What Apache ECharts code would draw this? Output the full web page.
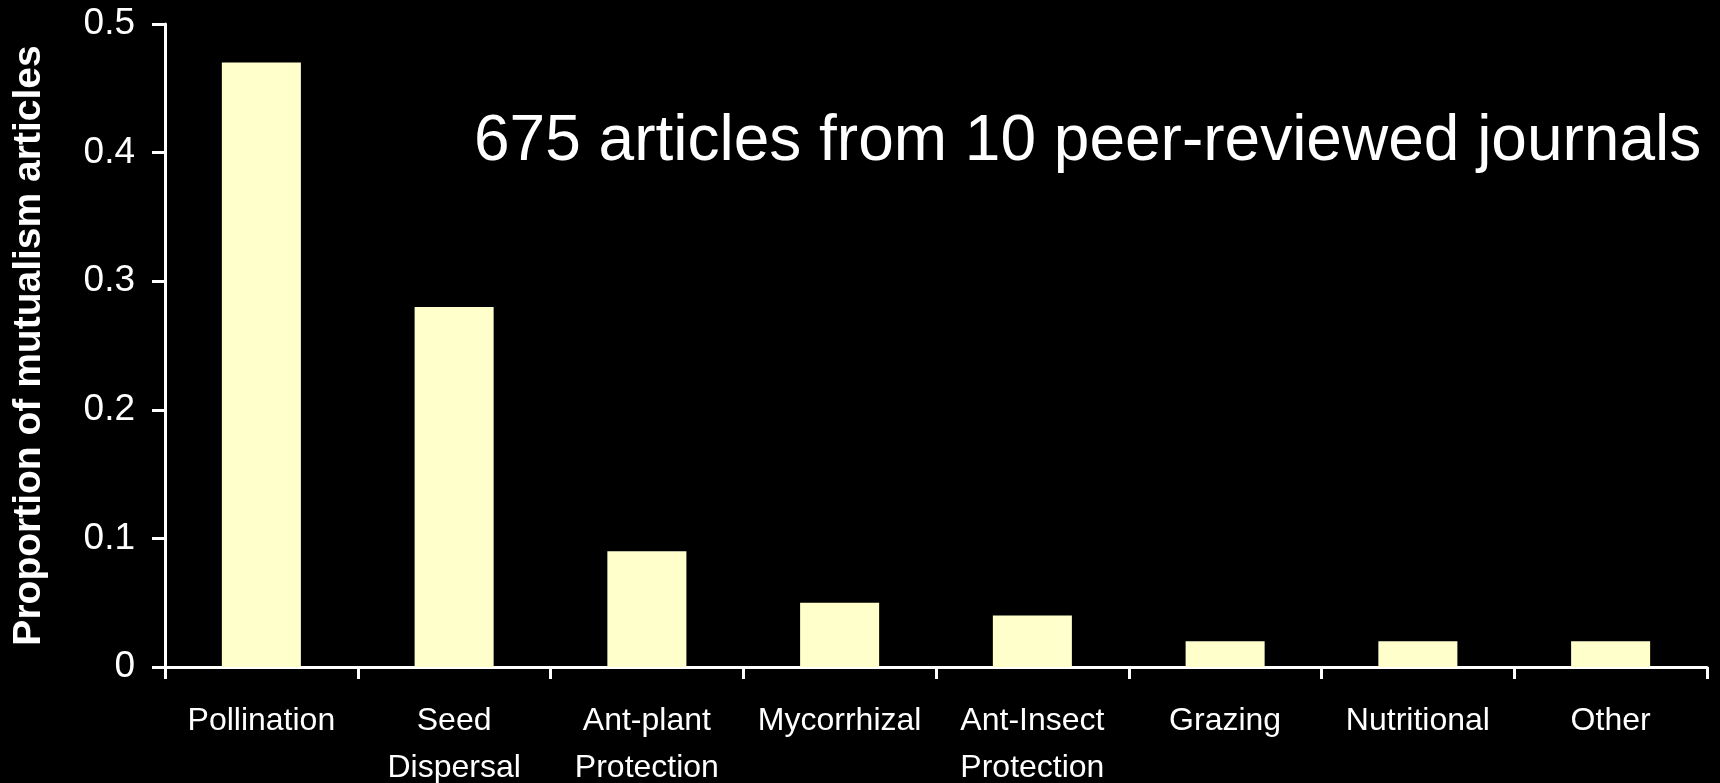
<!DOCTYPE html>
<html>
<head>
<meta charset="utf-8">
<script src="https://cdn.jsdelivr.net/npm/echarts@6/dist/echarts.min.js"></script>
<style>
  html, body { margin: 0; padding: 0; background: #000000; }
  #chart { width: 1720px; height: 783px; }
</style>
</head>
<body>
<div id="chart"></div>
<script>
// categories and values
var categories = ["Pollination", "Seed\nDispersal", "Ant-plant\nProtection", "Mycorrhizal",
                  "Ant-Insect\nProtection", "Grazing", "Nutritional", "Other"];
var proportions = [0.47, 0.28, 0.09, 0.05, 0.04, 0.02, 0.02, 0.02];
var yTicks = [0, 0.1, 0.2, 0.3, 0.4, 0.5];
var note = "675 articles from 10 peer-reviewed journals";

var fontFam = "'Liberation Sans', Arial, sans-serif";
var chart = echarts.init(document.getElementById('chart'));

var option = {
  backgroundColor: "#000000",
  animation: false,
  // keep the plot box fixed, labels may sit near the edge
  grid: { left: 165, right: 13, top: 24, bottom: 116, containLabel: false, outerBoundsMode: 'none' },
  xAxis: {
    type: 'category',
    data: categories,
    axisLine: { lineStyle: { color: '#ffffff', width: 3 } },
    axisTick: { show: true, length: 12, lineStyle: { color: '#ffffff', width: 3 } },
    axisLabel: {
      interval: 0,
      color: '#ffffff',
      fontFamily: fontFam,
      fontSize: 32,
      lineHeight: 47,
      margin: 31
    }
  },
  yAxis: {
    type: 'value',
    min: yTicks[0],
    max: yTicks[yTicks.length - 1],
    interval: 0.1,
    name: 'Proportion of mutualism articles',
    nameLocation: 'middle',
    nameRotate: 90,
    nameGap: 116,
    nameTextStyle: { color: '#ffffff', fontFamily: fontFam, fontSize: 39, fontWeight: 'bold' },
    splitLine: { show: false },
    axisLine: { show: true, lineStyle: { color: '#ffffff', width: 3 } },
    axisTick: { show: true, length: 13, lineStyle: { color: '#ffffff', width: 3 } },
    axisLabel: {
      color: '#ffffff',
      fontFamily: fontFam,
      fontSize: 37,
      margin: 30,
      formatter: function (v) { return String(Math.round(v * 10) / 10); }
    }
  },
  graphic: [{
    type: 'text',
    left: 474,
    top: 110,
    style: { text: note, fill: '#ffffff', font: '64px ' + fontFam }
  }],
  series: [{
    type: 'bar',
    data: proportions,
    barWidth: '41%',
    itemStyle: { color: '#FFFFCC' }
  }]
};
chart.setOption(option);
</script>
</body>
</html>
